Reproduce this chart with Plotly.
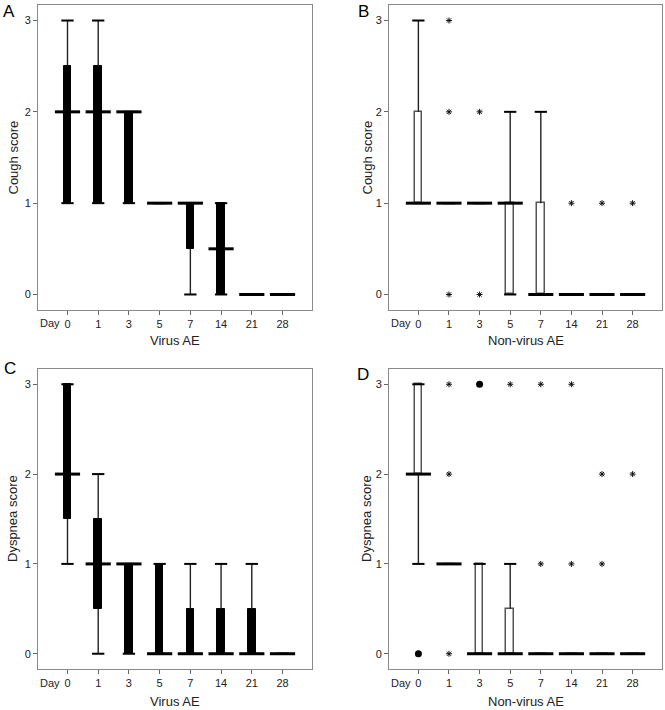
import plotly.graph_objects as go

# ---------------- data ----------------
days = ["0", "1", "3", "5", "7", "14", "21", "28"]

# Panel A: Cough score, Virus AE
a_min = [1, 1, 1, 1, 0, 0, 0, 0]
a_q1 = [1, 1, 1, 1, 0.5, 0, 0, 0]
a_med = [2, 2, 2, 1, 1, 0.5, 0, 0]
a_q3 = [2.5, 2.5, 2, 1, 1, 1, 0, 0]
a_max = [3, 3, 2, 1, 1, 1, 0, 0]

# Panel B: Cough score, Non-virus AE
b_min = [1, 1, 1, 0, 0, 0, 0, 0]
b_q1 = [1, 1, 1, 0, 0, 0, 0, 0]
b_med = [1, 1, 1, 1, 0, 0, 0, 0]
b_q3 = [2, 1, 1, 1, 1, 0, 0, 0]
b_max = [3, 1, 1, 2, 2, 0, 0, 0]
b_star_day = ["1", "1", "1", "3", "3", "14", "21", "28"]
b_star_val = [3, 2, 0, 2, 0, 1, 1, 1]

# Panel C: Dyspnea score, Virus AE
c_min = [1, 0, 0, 0, 0, 0, 0, 0]
c_q1 = [1.5, 0.5, 0, 0, 0, 0, 0, 0]
c_med = [2, 1, 1, 0, 0, 0, 0, 0]
c_q3 = [3, 1.5, 1, 1, 0.5, 0.5, 0.5, 0]
c_max = [3, 2, 1, 1, 1, 1, 1, 0]

# Panel D: Dyspnea score, Non-virus AE
d_min = [1, 1, 0, 0, 0, 0, 0, 0]
d_q1 = [2, 1, 0, 0, 0, 0, 0, 0]
d_med = [2, 1, 0, 0, 0, 0, 0, 0]
d_q3 = [3, 1, 1, 0.5, 0, 0, 0, 0]
d_max = [3, 1, 1, 1, 0, 0, 0, 0]
d_star_day = ["1", "1", "1", "5", "7", "7", "14", "14", "21", "21", "28"]
d_star_val = [3, 2, 0, 3, 3, 1, 3, 1, 2, 1, 2]
d_circ_day = ["0", "3"]
d_circ_val = [0, 3]

# ---------------- style ----------------
FONT = "Liberation Sans, Arial, Helvetica, sans-serif"
BOX_W = 0.25
CAP_HW = 0.2
MED_HW = 0.41
W, H = 665, 710

fig = go.Figure()


def add_panel(n, mins, q1, med, q3, maxs, filled, stars=None, circles=None):
    xa = "x" if n == 1 else f"x{n}"
    ya = "y" if n == 1 else f"y{n}"
    idx = list(range(len(days)))
    # whiskers
    wx, wy = [], []
    for i in idx:
        if maxs[i] > q3[i]:
            wx += [i, i, None]
            wy += [q3[i], maxs[i], None]
        if mins[i] < q1[i]:
            wx += [i, i, None]
            wy += [mins[i], q1[i], None]
    fig.add_trace(go.Scatter(x=wx, y=wy, mode="lines", xaxis=xa, yaxis=ya,
                             line=dict(color="#222222", width=1.4),
                             showlegend=False, hoverinfo="skip"))
    # boxes
    bx = [i for i in idx if q3[i] > q1[i]]
    fig.add_trace(go.Bar(x=bx, y=[q3[i] - q1[i] for i in bx], base=[q1[i] for i in bx],
                         width=BOX_W, xaxis=xa, yaxis=ya,
                         marker=dict(color="black" if filled else "white",
                                     line=dict(color="black" if filled else "#555555",
                                               width=1 if filled else 1.5)),
                         showlegend=False, hoverinfo="skip"))
    # caps
    cx, cy = [], []
    for i in idx:
        for v in (mins[i], maxs[i]):
            cx += [i - CAP_HW, i + CAP_HW, None]
            cy += [v, v, None]
    fig.add_trace(go.Scatter(x=cx, y=cy, mode="lines", xaxis=xa, yaxis=ya,
                             line=dict(color="black", width=2),
                             showlegend=False, hoverinfo="skip"))
    # medians
    mx, my = [], []
    for i in idx:
        mx += [i - MED_HW, i + MED_HW, None]
        my += [med[i], med[i], None]
    fig.add_trace(go.Scatter(x=mx, y=my, mode="lines", xaxis=xa, yaxis=ya,
                             line=dict(color="black", width=3),
                             showlegend=False, hoverinfo="skip"))
    if stars:
        sd, sv = stars
        fig.add_trace(go.Scatter(x=[days.index(d) for d in sd], y=sv, mode="markers",
                                 xaxis=xa, yaxis=ya,
                                 marker=dict(symbol="asterisk-open", size=5, color="#111111",
                                             line=dict(color="#111111", width=1)),
                                 showlegend=False, hoverinfo="skip"))
    if circles:
        cd, cv = circles
        fig.add_trace(go.Scatter(x=[days.index(d) for d in cd], y=cv, mode="markers",
                                 xaxis=xa, yaxis=ya,
                                 marker=dict(symbol="circle", size=7, color="black"),
                                 showlegend=False, hoverinfo="skip"))


add_panel(1, a_min, a_q1, a_med, a_q3, a_max, True)
add_panel(2, b_min, b_q1, b_med, b_q3, b_max, False, stars=(b_star_day, b_star_val))
add_panel(3, c_min, c_q1, c_med, c_q3, c_max, True)
add_panel(4, d_min, d_q1, d_med, d_q3, d_max, False, stars=(d_star_day, d_star_val),
          circles=(d_circ_day, d_circ_val))

# pixel layout
left_dom = [38 / W, 312 / W]
right_dom = [389 / W, 662 / W]
top_dom = [1 - 310 / H, 1 - 5 / H]
bot_dom = [1 - 669 / H, 1 - 369 / H]

axis_common = dict(showline=True, mirror=True, linecolor="#8a8a8a", linewidth=1,
                   showgrid=False, zeroline=False, ticks="outside", ticklen=4,
                   tickcolor="#666666", tickwidth=1,
                   tickfont=dict(family=FONT, size=11, color="#222222"),
                   automargin=False, fixedrange=True)

xcfg = dict(axis_common, range=[-0.96, 7.96], tickmode="array",
            tickvals=list(range(len(days))), ticktext=days)
ycfg = dict(axis_common, range=[-0.17, 3.17], tickmode="array",
            tickvals=[0, 1, 2, 3], ticktext=["0", "1", "2", "3"])

layout = dict(
    width=W, height=H, margin=dict(l=0, r=0, t=0, b=0),
    paper_bgcolor="white", plot_bgcolor="white", showlegend=False,
    font=dict(family=FONT, color="#222222"),
    bargap=0,
    xaxis=dict(xcfg, domain=left_dom, anchor="y"),
    yaxis=dict(ycfg, domain=top_dom, anchor="x"),
    xaxis2=dict(xcfg, domain=right_dom, anchor="y2"),
    yaxis2=dict(ycfg, domain=top_dom, anchor="x2"),
    xaxis3=dict(xcfg, domain=left_dom, anchor="y3"),
    yaxis3=dict(ycfg, domain=bot_dom, anchor="x3"),
    xaxis4=dict(xcfg, domain=right_dom, anchor="y4"),
    yaxis4=dict(ycfg, domain=bot_dom, anchor="x4"),
)

ann = []
# panel letters
for letter, px, py in [("A", 1, 12), ("B", 356, 12), ("C", 2, 368), ("D", 355, 374)]:
    ann.append(dict(text=letter, x=px / W, y=1 - py / H, xref="paper", yref="paper",
                    xanchor="left", yanchor="middle", showarrow=False,
                    font=dict(family=FONT, size=17, color="black")))
# x axis titles
for txt, dom, py in [("Virus AE", left_dom, 340), ("Non-virus AE", right_dom, 340),
                     ("Virus AE", left_dom, 701.5), ("Non-virus AE", right_dom, 701.5)]:
    ann.append(dict(text=txt, x=(dom[0] + dom[1]) / 2, y=1 - py / H, xref="paper",
                    yref="paper", xanchor="center", yanchor="middle", showarrow=False,
                    font=dict(family=FONT, size=13, color="#222222")))
# y axis titles
for txt, px, dom in [("Cough score", 13, top_dom), ("Cough score", 367, top_dom),
                     ("Dyspnea score", 13, bot_dom), ("Dyspnea score", 367, bot_dom)]:
    ann.append(dict(text=txt, x=px / W, y=(dom[0] + dom[1]) / 2, xref="paper",
                    yref="paper", xanchor="center", yanchor="middle", textangle=-90,
                    showarrow=False, font=dict(family=FONT, size=13, color="#222222")))
# "Day" prefix before first tick label
for xr, py in [("x", 323), ("x2", 323), ("x3", 683), ("x4", 683)]:
    ann.append(dict(text="Day", x=0, y=1 - py / H, xref=xr, yref="paper",
                    xanchor="right", yanchor="middle", xshift=-5, showarrow=False,
                    font=dict(family=FONT, size=11, color="#222222")))
layout["annotations"] = ann

fig.update_layout(**layout)
fig.write_html("out.html", config={"displayModeBar": False},
               post_script="document.body.style.margin='0';document.body.style.padding='0';")
